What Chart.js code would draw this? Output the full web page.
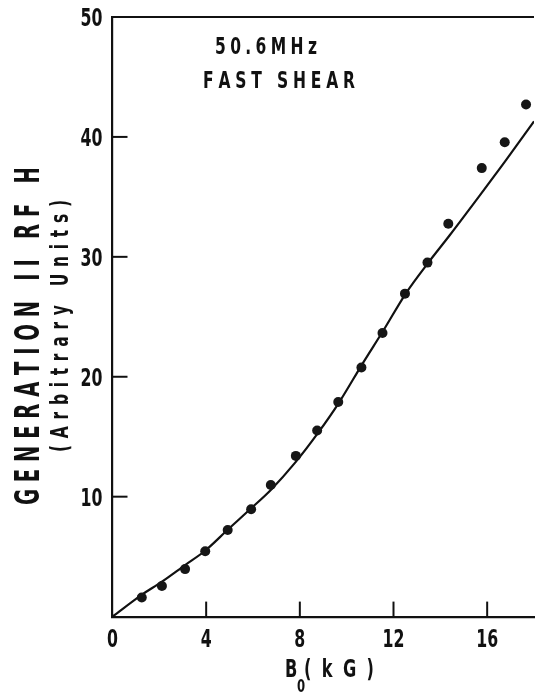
<!DOCTYPE html>
<html>
<head>
<meta charset="utf-8">
<script src="https://cdn.jsdelivr.net/npm/chart.js@4.4.0/dist/chart.umd.min.js"></script>
<style>
  html, body { margin: 0; padding: 0; background: #fff; }
  #wrap { position: relative; width: 539px; height: 694px; }
</style>
</head>
<body>
<div id="wrap"><canvas id="c"></canvas></div>
<script>
// Measured RF signal versus magnetic field B0 (kG)
const fieldKG  = [1.25, 2.11, 3.1, 3.96, 4.92, 5.92, 6.76, 7.83, 8.74, 9.64, 10.63, 11.53, 12.49, 13.45, 14.34, 15.77, 16.75, 17.66];
const rfSignal = [1.6, 2.55, 3.96, 5.45, 7.22, 8.95, 10.97, 13.4, 15.52, 17.9, 20.77, 23.65, 26.93, 29.52, 32.76, 37.4, 39.55, 42.7];

// Smooth curve through the data
const fitKG     = [0, 1.23, 2.11, 3.1, 3.94, 4.94, 5.92, 6.76, 7.8, 8.77, 9.68, 10.68, 11.58, 12.53, 13.48, 14.4, 15.83, 16.82, 18];
const fitSignal = [0, 1.79, 2.91, 4.3, 5.47, 7.28, 9.03, 10.56, 12.84, 15.3, 17.87, 21.1, 23.9, 26.96, 29.5, 31.8, 35.5, 38.1, 41.3];

const xTickValues = [0, 4, 8, 12, 16];
const yTickValues = [10, 20, 30, 40, 50];

const yTitle    = 'GENERATION II RF H';
const ySubtitle = '(Arbitrary Units)';
const noteLines = ['50.6MHz', 'FAST SHEAR'];

const INK = '#111';
const NARROW = "'DejaVu Sans Condensed', 'Liberation Sans Narrow', 'Liberation Sans', sans-serif";

// Draw text centred on (cx, baseline y), spreading the letters over `span` px,
// with each glyph squeezed horizontally by scaleX.
function spacedText(ctx, text, cx, y, span, scaleX) {
  const chars = Array.from(text);
  const widths = chars.map(ch => ctx.measureText(ch).width * scaleX);
  const total = widths.reduce((a, b) => a + b, 0);
  const gap = chars.length > 1 ? (span - total) / (chars.length - 1) : 0;
  let x = cx - span / 2;
  chars.forEach((ch, i) => {
    ctx.save();
    ctx.translate(x, y);
    ctx.scale(scaleX, 1);
    ctx.fillText(ch, 0, 0);
    ctx.restore();
    x += widths[i] + gap;
  });
}

// Condensed label anchored by alignment ('left' | 'center' | 'right')
function narrowText(ctx, text, x, y, scaleX, align) {
  const w = ctx.measureText(text).width * scaleX;
  const left = align === 'right' ? x - w : align === 'center' ? x - w / 2 : x;
  ctx.save();
  ctx.translate(left, y);
  ctx.scale(scaleX, 1);
  ctx.fillText(text, 0, 0);
  ctx.restore();
}

const decorations = {
  id: 'decorations',
  afterDraw(chart) {
    const ctx = chart.ctx;
    const area = chart.chartArea;
    const xs = chart.scales.x, ys = chart.scales.y;
    ctx.save();
    ctx.strokeStyle = INK;
    ctx.fillStyle = INK;
    ctx.lineWidth = 2;

    // frame line along the top
    ctx.beginPath();
    ctx.moveTo(area.left - 1, area.top);
    ctx.lineTo(area.right, area.top);
    ctx.stroke();

    // inward tick marks
    const len = 15;
    yTickValues.filter(v => v < 50).forEach(v => {
      const py = ys.getPixelForValue(v);
      ctx.beginPath();
      ctx.moveTo(area.left, py);
      ctx.lineTo(area.left + len, py);
      ctx.stroke();
    });
    xTickValues.filter(v => v > 0).forEach(v => {
      const px = xs.getPixelForValue(v);
      ctx.beginPath();
      ctx.moveTo(px, area.bottom);
      ctx.lineTo(px, area.bottom - len);
      ctx.stroke();
    });

    ctx.textAlign = 'left';
    ctx.textBaseline = 'alphabetic';

    // tick labels
    ctx.font = 'bold 25px ' + NARROW;
    yTickValues.forEach(v => {
      narrowText(ctx, String(v), area.left - 10, ys.getPixelForValue(v) + 9, 0.7, 'right');
    });
    xTickValues.forEach(v => {
      narrowText(ctx, String(v), xs.getPixelForValue(v), area.bottom + 30, 0.7, 'center');
    });

    // annotation in the upper left of the plot
    ctx.font = 'bold 23px ' + NARROW;
    spacedText(ctx, noteLines[0], 266, 54, 102, 0.75);
    spacedText(ctx, noteLines[1], 279, 88, 152, 0.75);

    // vertical axis title, two lines
    ctx.save();
    ctx.translate(27, 336);
    ctx.rotate(-Math.PI / 2);
    ctx.font = 'bold 33px ' + NARROW;
    spacedText(ctx, yTitle, 0, 12, 338, 0.66);
    ctx.restore();

    ctx.save();
    ctx.translate(59, 326);
    ctx.rotate(-Math.PI / 2);
    ctx.font = 'bold 24px ' + NARROW;
    spacedText(ctx, ySubtitle, 0, 8.5, 252, 0.72);
    ctx.restore();

    // horizontal axis title: B with subscript 0, then (kG)
    ctx.font = 'bold 25px ' + NARROW;
    narrowText(ctx, 'B', 285, 677, 0.72, 'left');
    ctx.font = 'bold 18px ' + NARROW;
    narrowText(ctx, '0', 297, 692, 0.72, 'left');
    ctx.font = 'bold 25px ' + NARROW;
    spacedText(ctx, '(kG)', 339, 677, 70, 0.72);

    ctx.restore();
  }
};

const scatterData = fieldKG.map((x, i) => ({ x, y: rfSignal[i] }));
const curveData = fitKG.map((x, i) => ({ x, y: fitSignal[i] }));

new Chart(document.getElementById('c'), {
  type: 'scatter',
  data: {
    datasets: [
      {
        label: 'fit',
        data: curveData,
        showLine: true,
        borderColor: INK,
        borderWidth: 2.2,
        pointRadius: 0,
        cubicInterpolationMode: 'monotone',
        order: 2
      },
      {
        label: 'measured',
        data: scatterData,
        pointRadius: 5,
        pointHoverRadius: 5,
        backgroundColor: '#161616',
        borderWidth: 0,
        order: 1
      }
    ]
  },
  options: {
    responsive: true,
    maintainAspectRatio: false,
    animation: false,
    layout: { padding: { top: 17, right: 0, left: 0, bottom: 0 } },
    plugins: { legend: { display: false }, tooltip: { enabled: false } },
    scales: {
      x: {
        type: 'linear',
        min: 0,
        max: 18,
        grid: { display: false, drawTicks: false },
        border: { display: true, color: INK, width: 2.2 },
        ticks: { display: false },
        afterBuildTicks: s => { s.ticks = xTickValues.map(v => ({ value: v })); },
        afterFit: s => { s.height = 77.4; }
      },
      y: {
        type: 'linear',
        min: 0,
        max: 50,
        grid: { display: false, drawTicks: false },
        border: { display: true, color: INK, width: 2.2 },
        ticks: { display: false },
        afterBuildTicks: s => { s.ticks = yTickValues.map(v => ({ value: v })); },
        afterFit: s => { s.width = 112.5; }
      }
    }
  },
  plugins: [decorations]
});
</script>
</body>
</html>
